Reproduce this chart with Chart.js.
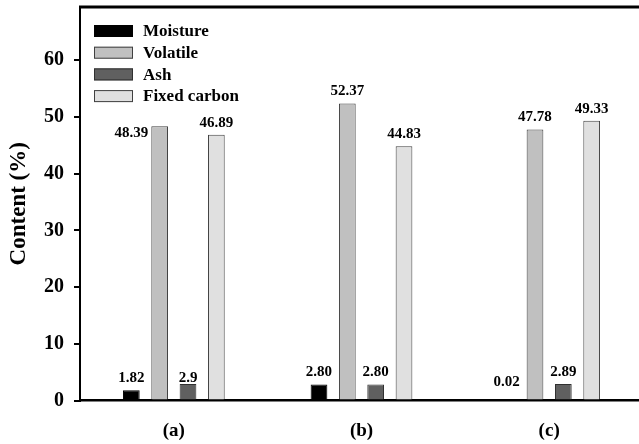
<!DOCTYPE html>
<html>
<head>
<meta charset="utf-8">
<script src="https://cdn.jsdelivr.net/npm/chart.js@4/dist/chart.umd.min.js"></script>
<style>
  html, body { margin: 0; padding: 0; background: #fff; overflow: hidden; }
  #wrap { width: 643px; height: 444px; }
</style>
</head>
<body>
<div id="wrap"><canvas id="chart" width="643" height="444"></canvas></div>
<script>
// data
const samples = ['(a)', '(b)', '(c)'];
const series_names = ['Moisture', 'Volatile', 'Ash', 'Fixed carbon'];
const moisture = [1.82, 2.80, 0.02];
const volatile = [48.39, 52.37, 47.78];
const ash = [2.9, 2.80, 2.89];
const fixed_carbon = [46.89, 44.83, 49.33];
const value_labels = [
  ['1.82', '2.80', '0.02'],
  ['48.39', '52.37', '47.78'],
  ['2.9', '2.80', '2.89'],
  ['46.89', '44.83', '49.33']
];
const y_ticks = [0, 10, 20, 30, 40, 50, 60];

const fills = ['#000000', '#c0c0c0', '#606060', '#e0e0e0'];
const edges = ['#000000', '#404040', '#303030', '#404040'];
const SERIF = '"Liberation Serif", "Times New Roman", serif';

// 값 라벨 + 범례 + 위쪽 테두리
const deco = {
  id: 'deco',
  afterDraw(chart) {
    const ctx = chart.ctx;
    const area = chart.chartArea;
    ctx.save();

    // top frame line
    ctx.strokeStyle = '#000';
    ctx.lineWidth = 3;
    ctx.beginPath();
    ctx.moveTo(area.left - 1, area.top);
    ctx.lineTo(chart.width, area.top);
    ctx.stroke();

    // value labels
    ctx.fillStyle = '#000';
    ctx.font = 'bold 15px ' + SERIF;
    ctx.textBaseline = 'middle';
    chart.data.datasets.forEach((ds, di) => {
      chart.getDatasetMeta(di).data.forEach((bar, i) => {
        const txt = value_labels[di][i];
        if (di === 1 && i === 0) {
          ctx.textAlign = 'right';
          ctx.fillText(txt, bar.x - bar.width / 2 - 3, bar.y + 7);
          return;
        }
        let dy = 12;
        if (di === 2 && i === 0) dy = 6;
        if (di === 0 && i === 2) dy = 18;
        ctx.textAlign = 'center';
        ctx.fillText(txt, bar.x, bar.y - dy);
      });
    });

    // legend inside plot
    ctx.font = 'bold 17px ' + SERIF;
    ctx.textAlign = 'left';
    chart.data.datasets.forEach((ds, di) => {
      const cy = 31 + di * 21.7;
      ctx.fillStyle = ds.backgroundColor;
      ctx.fillRect(94, cy - 6, 39, 12);
      ctx.strokeStyle = ds.borderColor;
      ctx.lineWidth = 1;
      ctx.strokeRect(94.5, cy - 5.5, 38, 11);
      ctx.fillStyle = '#000';
      ctx.fillText(ds.label, 143, cy + 1);
    });
    ctx.restore();
  }
};

const all_values = [moisture, volatile, ash, fixed_carbon];

new Chart(document.getElementById('chart').getContext('2d'), {
  type: 'bar',
  data: {
    labels: samples,
    datasets: series_names.map((name, i) => ({
      label: name,
      data: all_values[i],
      backgroundColor: fills[i],
      borderColor: edges[i],
      borderWidth: 1,
      categoryPercentage: 0.604,
      barPercentage: 0.59
    }))
  },
  options: {
    responsive: false,
    animation: false,
    layout: { padding: { top: 7, right: 0, left: 0, bottom: 0 } },
    plugins: { legend: { display: false }, tooltip: { enabled: false } },
    scales: {
      x: {
        grid: { display: false, drawTicks: false },
        border: { display: true, color: '#000', width: 2.5 },
        ticks: { color: '#000', padding: 19, font: { family: SERIF, size: 19, weight: 'bold' } },
        afterFit(scale) { scale.height = 43.5; }
      },
      y: {
        min: 0,
        max: 69.4,
        afterBuildTicks(scale) { scale.ticks = y_ticks.map(v => ({ value: v })); },
        grid: { display: true, drawOnChartArea: false, drawTicks: true, tickLength: 6, color: '#000', lineWidth: 2 },
        border: { display: true, color: '#000', width: 2 },
        ticks: { color: '#000', padding: 10, font: { family: SERIF, size: 20, weight: 'bold' } },
        title: { display: true, text: 'Content (%)', color: '#000', padding: { top: 5, bottom: 0 }, font: { family: SERIF, size: 23, weight: 'bold' } },
        afterFit(scale) { scale.width = 80; scale.paddingTop = 0; scale.paddingBottom = 0; }
      }
    }
  },
  plugins: [deco]
});
</script>
</body>
</html>
